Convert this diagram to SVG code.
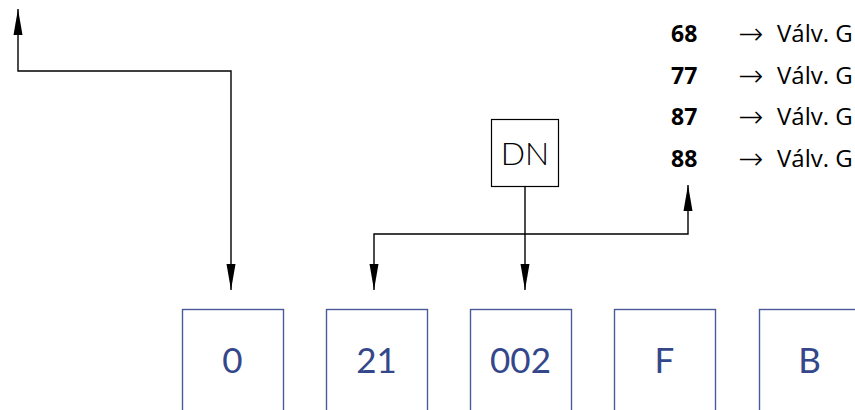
<svg xmlns="http://www.w3.org/2000/svg" width="855" height="410" viewBox="0 0 855 410">
<defs>
<style>
.box{fill:#fff;stroke:#4a5a9a;stroke-width:1.4}
.btxt{font-family:Lato,"Noto Sans",sans-serif;font-weight:400;font-size:35px;fill:#34478a;text-anchor:middle}
.dn{fill:#fff;stroke:#000;stroke-width:1.2}
.dntxt{font-family:Lato,"Noto Sans",sans-serif;font-weight:300;font-size:32px;fill:#000;text-anchor:middle}
.conn{fill:none;stroke:#000;stroke-width:1.4}
.num{font-family:"Open Sans","Noto Sans",sans-serif;font-weight:700;font-size:23px;fill:#000}
.arr{font-family:"DejaVu Sans",sans-serif;font-weight:200;font-size:30px;fill:#000}
.lbl{font-family:"Open Sans","Noto Sans",sans-serif;font-size:24px;fill:#000}
</style>
<marker id="ah" viewBox="0 0 26 10" refX="26" refY="5" markerWidth="26" markerHeight="10" markerUnits="userSpaceOnUse" orient="auto-start-reverse">
<path d="M0,0.5 L26,5 L0,9.5 z" fill="#000"/>
</marker>
</defs>
<rect width="855" height="410" fill="#fff"/>
<g id="connectors">
<path class="conn" d="M18,9 V71 H231 V290" marker-start="url(#ah)" marker-end="url(#ah)"/>
<path class="conn" d="M525,187 V290" marker-end="url(#ah)"/>
<path class="conn" d="M374,290 V234 H688 V185" marker-start="url(#ah)" marker-end="url(#ah)"/>
</g>
<g id="node-DN">
<rect class="dn" x="491.5" y="119.5" width="67" height="67"/>
<text class="dntxt" x="525" y="165">DN</text>
</g>
<g id="node-0"><rect class="box" x="182.5" y="309.5" width="101" height="102"/><text class="btxt" x="232.5" y="373">0</text></g>
<g id="node-21"><rect class="box" x="326.5" y="309.5" width="101" height="102"/><text class="btxt" x="376.5" y="373">21</text></g>
<g id="node-002"><rect class="box" x="470.5" y="309.5" width="101" height="102"/><text class="btxt" x="520.5" y="373">002</text></g>
<g id="node-F"><rect class="box" x="614.5" y="309.5" width="101" height="102"/><text class="btxt" x="664.5" y="373">F</text></g>
<g id="node-B"><rect class="box" x="759.5" y="309.5" width="101" height="102"/><text class="btxt" x="809.5" y="373">B</text></g>
<g id="legend">
<text class="num" x="671" y="42">68</text><text class="arr" x="738" y="44">→</text><text class="lbl" x="777" y="42">Válv. G</text>
<text class="num" x="671" y="84">77</text><text class="arr" x="738" y="86">→</text><text class="lbl" x="777" y="84">Válv. G</text>
<text class="num" x="671" y="125">87</text><text class="arr" x="738" y="127">→</text><text class="lbl" x="777" y="125">Válv. G</text>
<text class="num" x="671" y="167">88</text><text class="arr" x="738" y="169">→</text><text class="lbl" x="777" y="167">Válv. G</text>
</g>
</svg>
